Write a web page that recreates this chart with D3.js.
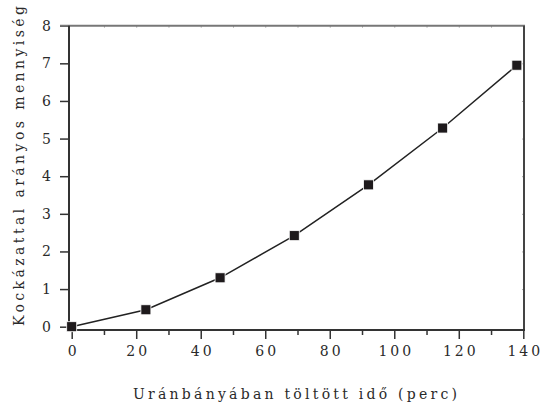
<!DOCTYPE html>
<html>
<head>
<meta charset="utf-8">
<script src="https://cdn.jsdelivr.net/npm/d3@7"></script>
<style>
  html, body { margin: 0; padding: 0; background: #fff; }
  svg { display: block; }
</style>
</head>
<body>
<svg id="chart" width="542" height="408"></svg>
<script>
// Time spent in the uranium mine (minutes) vs. risk-proportional quantity
const minutes = [0, 23, 46, 69, 92, 115, 138];
const riskValues = [0, 0.45, 1.3, 2.42, 3.77, 5.28, 6.95];
const xTickValues = [0, 20, 40, 60, 80, 100, 120, 140];
const yTickValues = [0, 1, 2, 3, 4, 5, 6, 7, 8];
const xTitle = "Uránbányában töltött idő (perc)";
const yTitle = "Kockázattal arányos mennyiség";

const serif = "DejaVu Serif";
const ink = "#2a2a2a";

const svg = d3.select("#chart");

const frame = { left: 69, right: 524, top: 25.7, bottom: 330 };

const x = d3.scaleLinear().domain([0, 140]).range([71.7, 523.3]);
const y = d3.scaleLinear().domain([0, 8]).range([326.7, 25.7]);

const tickFont = 14;

function styleLabels(g) {
  g.attr("font-family", serif).attr("font-size", tickFont);
  g.selectAll("text").attr("fill", ink).style("font-family", serif).style("font-size", tickFont + "px");
}

// bottom axis: major ticks every 20, minor every 10
const bottom = svg.append("g").attr("transform", `translate(0,${frame.bottom})`);
bottom.call(d3.axisBottom(x).tickValues(d3.range(10, 140, 20)).tickSize(5).tickFormat(""))
  .call(g => g.select(".domain").remove())
  .call(g => g.selectAll("line").attr("stroke", "#333").attr("stroke-width", 1.5));
bottom.append("g")
  .call(d3.axisBottom(x).tickValues(xTickValues).tickSize(9).tickPadding(7).tickFormat(d3.format("d")))
  .call(g => g.select(".domain").remove())
  .call(g => g.selectAll("line").attr("stroke", "#333").attr("stroke-width", 1.5))
  .call(styleLabels)
  .call(g => g.selectAll("text").style("letter-spacing", "3px").attr("dx", 1.5));

// left axis
svg.append("g").attr("transform", `translate(${frame.left},0)`)
  .call(d3.axisLeft(y).tickValues(yTickValues).tickSize(9).tickPadding(9).tickFormat(d3.format("d")))
  .call(g => g.select(".domain").remove())
  .call(g => g.selectAll("line").attr("stroke", "#333").attr("stroke-width", 1.5))
  .call(styleLabels);

// faint inner ticks on top and right edges
svg.append("g").attr("transform", `translate(0,${frame.top})`)
  .call(d3.axisBottom(x).tickValues(d3.range(10, 140, 10)).tickSize(2).tickFormat(""))
  .call(g => g.select(".domain").remove())
  .call(g => g.selectAll("line").attr("stroke", "#aaa").attr("stroke-width", 1));
svg.append("g").attr("transform", `translate(${frame.right},0)`)
  .call(d3.axisLeft(y).tickValues(d3.range(1, 8)).tickSize(2).tickFormat(""))
  .call(g => g.select(".domain").remove())
  .call(g => g.selectAll("line").attr("stroke", "#aaa").attr("stroke-width", 1));

// frame
svg.append("line").attr("x1", 60).attr("x2", frame.right + 1).attr("y1", frame.top).attr("y2", frame.top)
  .attr("stroke", "#777").attr("stroke-width", 2);
svg.append("line").attr("x1", frame.right).attr("x2", frame.right).attr("y1", frame.top).attr("y2", frame.bottom)
  .attr("stroke", "#444").attr("stroke-width", 2);
svg.append("line").attr("x1", frame.left).attr("x2", frame.left).attr("y1", frame.top).attr("y2", frame.bottom + 1)
  .attr("stroke", "#333").attr("stroke-width", 2);
svg.append("line").attr("x1", frame.left).attr("x2", frame.right + 1).attr("y1", frame.bottom).attr("y2", frame.bottom)
  .attr("stroke", "#333").attr("stroke-width", 1.8);

// data line
const pts = minutes.map((m, i) => [m, riskValues[i]]);
svg.append("path")
  .datum(pts)
  .attr("fill", "none")
  .attr("stroke", "#222")
  .attr("stroke-width", 1.5)
  .attr("d", d3.line().x(d => x(d[0])).y(d => y(d[1])));

// square markers
const s = 10;
svg.append("g").selectAll("rect")
  .data(pts)
  .join("rect")
  .attr("x", d => x(d[0]) - s / 2)
  .attr("y", d => y(d[1]) - s / 2)
  .attr("width", s)
  .attr("height", s)
  .attr("fill", "#1e1a1c")
  .attr("stroke", "#fff")
  .attr("stroke-width", 0.8);

// axis titles
svg.append("text")
  .attr("x", 133)
  .attr("y", 399)
  .style("font-family", serif)
  .style("font-size", "14px")
  .attr("fill", ink)
  .attr("textLength", 324)
  .attr("lengthAdjust", "spacing")
  .text(xTitle);

svg.append("text")
  .attr("transform", "translate(24,326) rotate(-90)")
  .style("font-family", serif)
  .style("font-size", "14px")
  .attr("fill", ink)
  .attr("textLength", 320)
  .attr("lengthAdjust", "spacing")
  .text(yTitle);
</script>
</body>
</html>
